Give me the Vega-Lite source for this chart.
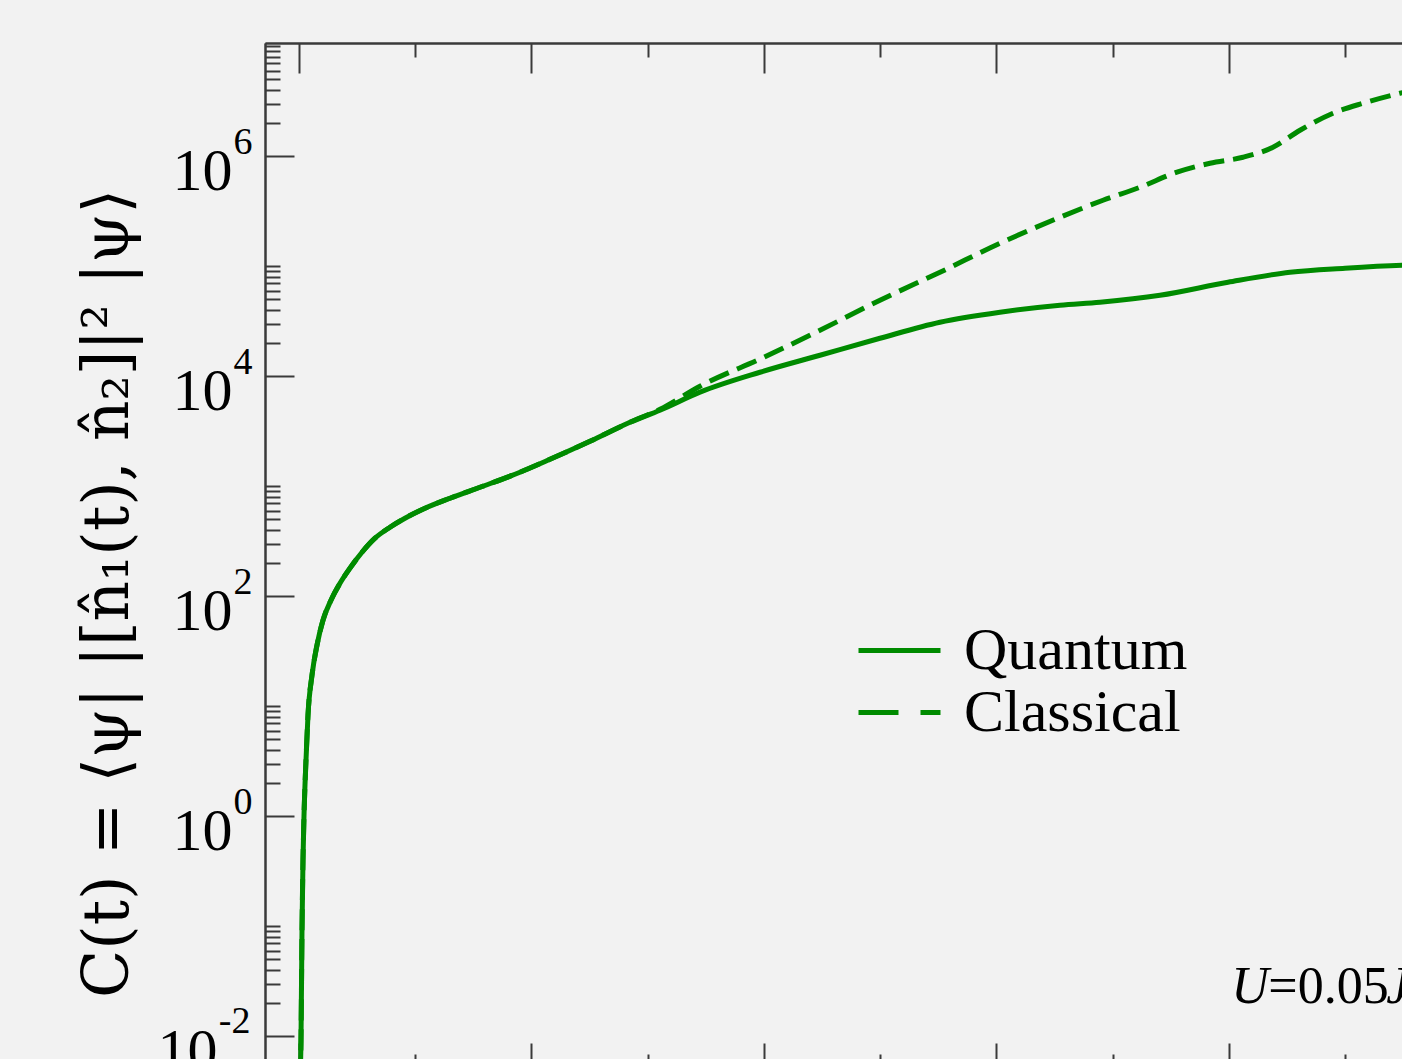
{
  "$schema": "https://vega.github.io/schema/vega-lite/v6.json",
  "autosize": "none",
  "width": 1137,
  "height": 1016,
  "padding": {"left": 265, "top": 43, "right": 0, "bottom": 0},
  "background": "#f2f2f2",
  "config": {
    "view": {"stroke": null},
    "axis": {"domainColor": "#3a3a3a", "domainWidth": 2, "tickColor": "#3a3a3a", "tickWidth": 2, "grid": false, "labelFont": "Liberation Serif", "labelColor": "black"},
    "legend": {"title": null, "padding": 0, "symbolType": "stroke", "symbolSize": 6724, "symbolStrokeWidth": 5, "symbolStrokeColor": "#008b00", "symbolOpacity": 1, "labelFont": "Liberation Serif", "labelFontSize": 60, "labelColor": "black", "labelOffset": 21, "labelLimit": 500}
  },
  "title": {
    "text": "Initial state |ψ⟩ = |0, 20, 0⟩",
    "anchor": "start",
    "dx": 195,
    "offset": 37,
    "font": "Liberation Serif",
    "fontSize": 54,
    "fontWeight": "normal",
    "color": "black",
    "baseline": "alphabetic"
  },
  "data": {
    "values": [
      {"t": 0.043, "C": 0.00398, "series": "Quantum"},
      {"t": 0.086, "C": 0.0092, "series": "Quantum"},
      {"t": 0.129, "C": 0.092, "series": "Quantum"},
      {"t": 0.172, "C": 0.398, "series": "Quantum"},
      {"t": 0.215, "C": 1.0, "series": "Quantum"},
      {"t": 0.301, "C": 3.23, "series": "Quantum"},
      {"t": 0.387, "C": 8.28, "series": "Quantum"},
      {"t": 0.559, "C": 19.1, "series": "Quantum"},
      {"t": 0.774, "C": 35.9, "series": "Quantum"},
      {"t": 1.032, "C": 60.5, "series": "Quantum"},
      {"t": 1.376, "C": 92.0, "series": "Quantum"},
      {"t": 1.763, "C": 131, "series": "Quantum"},
      {"t": 2.194, "C": 180, "series": "Quantum"},
      {"t": 2.71, "C": 251, "series": "Quantum"},
      {"t": 3.269, "C": 337, "series": "Quantum"},
      {"t": 3.914, "C": 424, "series": "Quantum"},
      {"t": 4.559, "C": 512, "series": "Quantum"},
      {"t": 5.419, "C": 631, "series": "Quantum"},
      {"t": 6.495, "C": 778, "series": "Quantum"},
      {"t": 7.785, "C": 979, "series": "Quantum"},
      {"t": 9.29, "C": 1285, "series": "Quantum"},
      {"t": 10.796, "C": 1758, "series": "Quantum"},
      {"t": 12.516, "C": 2564, "series": "Quantum"},
      {"t": 14.237, "C": 3816, "series": "Quantum"},
      {"t": 15.527, "C": 4909, "series": "Quantum"},
      {"t": 17.247, "C": 7161, "series": "Quantum"},
      {"t": 19.828, "C": 10870, "series": "Quantum"},
      {"t": 22.409, "C": 15520, "series": "Quantum"},
      {"t": 24.989, "C": 22150, "series": "Quantum"},
      {"t": 27.57, "C": 30970, "series": "Quantum"},
      {"t": 30.151, "C": 38180, "series": "Quantum"},
      {"t": 32.731, "C": 44190, "series": "Quantum"},
      {"t": 34.452, "C": 47100, "series": "Quantum"},
      {"t": 37.032, "C": 54470, "series": "Quantum"},
      {"t": 39.957, "C": 71570, "series": "Quantum"},
      {"t": 42.624, "C": 88190, "series": "Quantum"},
      {"t": 44.99, "C": 95920, "series": "Quantum"},
      {"t": 47.44, "C": 102100, "series": "Quantum"},
      {"t": 49.9, "C": 104300, "series": "Quantum"},
      {"t": 0.043, "C": 0.00398, "series": "Classical"},
      {"t": 0.086, "C": 0.0092, "series": "Classical"},
      {"t": 0.129, "C": 0.092, "series": "Classical"},
      {"t": 0.172, "C": 0.398, "series": "Classical"},
      {"t": 0.215, "C": 1.0, "series": "Classical"},
      {"t": 0.301, "C": 3.23, "series": "Classical"},
      {"t": 0.387, "C": 8.28, "series": "Classical"},
      {"t": 0.559, "C": 19.1, "series": "Classical"},
      {"t": 0.774, "C": 35.9, "series": "Classical"},
      {"t": 1.032, "C": 60.5, "series": "Classical"},
      {"t": 1.376, "C": 92.0, "series": "Classical"},
      {"t": 1.763, "C": 131, "series": "Classical"},
      {"t": 2.194, "C": 180, "series": "Classical"},
      {"t": 2.71, "C": 251, "series": "Classical"},
      {"t": 3.269, "C": 337, "series": "Classical"},
      {"t": 3.914, "C": 424, "series": "Classical"},
      {"t": 4.559, "C": 512, "series": "Classical"},
      {"t": 5.419, "C": 631, "series": "Classical"},
      {"t": 6.495, "C": 778, "series": "Classical"},
      {"t": 7.785, "C": 979, "series": "Classical"},
      {"t": 9.29, "C": 1285, "series": "Classical"},
      {"t": 10.796, "C": 1758, "series": "Classical"},
      {"t": 12.516, "C": 2564, "series": "Classical"},
      {"t": 14.237, "C": 3816, "series": "Classical"},
      {"t": 15.527, "C": 5012, "series": "Classical"},
      {"t": 17.247, "C": 8110, "series": "Classical"},
      {"t": 20.0, "C": 14890, "series": "Classical"},
      {"t": 22.409, "C": 26180, "series": "Classical"},
      {"t": 24.989, "C": 49090, "series": "Classical"},
      {"t": 27.57, "C": 88190, "series": "Classical"},
      {"t": 30.151, "C": 161800, "series": "Classical"},
      {"t": 32.731, "C": 278700, "series": "Classical"},
      {"t": 34.581, "C": 398100, "series": "Classical"},
      {"t": 36.172, "C": 522700, "series": "Classical"},
      {"t": 37.763, "C": 716200, "series": "Classical"},
      {"t": 39.183, "C": 863600, "series": "Classical"},
      {"t": 40.602, "C": 979000, "series": "Classical"},
      {"t": 41.892, "C": 1207000, "series": "Classical"},
      {"t": 43.054, "C": 1722000, "series": "Classical"},
      {"t": 44.473, "C": 2460000, "series": "Classical"},
      {"t": 45.763, "C": 3034000, "series": "Classical"},
      {"t": 47.355, "C": 3740000, "series": "Classical"},
      {"t": 49.935, "C": 4910000, "series": "Classical"}
    ]
  },
  "layer": [
    {
      "transform": [{"filter": "datum.series === 'Quantum'"}],
      "mark": {"type": "line", "interpolate": "monotone", "strokeWidth": 5, "color": "#008b00", "clip": true, "strokeCap": "butt"},
      "encoding": {
        "x": {
          "field": "t", "type": "quantitative",
          "scale": {"domain": [-1.462, 47.441], "nice": false, "zero": false},
          "axis": {"orient": "bottom", "values": [0, 10, 20, 30, 40], "tickSize": -27, "labels": false, "title": null, "offset": 11}
        },
        "y": {
          "field": "C", "type": "quantitative",
          "scale": {"type": "log", "domain": [0.00621, 10700000], "nice": false},
          "axis": {
            "orient": "left",
            "values": [0.01, 1, 100, 10000, 1000000],
            "tickSize": -29,
            "labels": false,
            "title": "C(t) = ⟨ψ| |[n̂₁(t), n̂₂]|² |ψ⟩",
            "titleFont": "DejaVu Serif",
            "titleFontSize": 63,
            "titleFontWeight": "normal",
            "titleColor": "black",
            "titleAngle": -90,
            "titleAlign": "center",
            "titleBaseline": "alphabetic",
            "titleX": -138,
            "titleY": 550
          }
        }
      }
    },
    {
      "transform": [{"filter": "datum.series === 'Classical'"}],
      "mark": {"type": "line", "interpolate": "monotone", "strokeWidth": 5, "color": "#008b00", "clip": true, "strokeCap": "butt", "strokeDash": [21, 9]},
      "encoding": {
        "x": {
          "field": "t", "type": "quantitative",
          "scale": {"domain": [-1.462, 47.441], "nice": false, "zero": false},
          "axis": {"orient": "bottom", "values": [5, 15, 25, 35, 45], "tickSize": -16, "labels": false, "title": null, "offset": 11}
        },
        "y": {
          "field": "C", "type": "quantitative",
          "scale": {"type": "log", "domain": [0.00621, 10700000], "nice": false},
          "axis": {
            "orient": "left",
            "values": [0.02, 0.03, 0.04, 0.05, 0.06, 0.07, 0.08, 0.09, 0.1, 2, 3, 4, 5, 6, 7, 8, 9, 10, 200, 300, 400, 500, 600, 700, 800, 900, 1000, 20000, 30000, 40000, 50000, 60000, 70000, 80000, 90000, 100000, 2000000, 3000000, 4000000, 5000000, 6000000, 7000000, 8000000, 9000000, 10000000],
            "tickSize": -15, "labels": false, "title": null
          }
        }
      }
    },
    {
      "mark": {"type": "point", "opacity": 0},
      "encoding": {
        "x": {
          "field": "t", "type": "quantitative",
          "scale": {"domain": [-1.462, 47.441], "nice": false, "zero": false},
          "axis": {"orient": "top", "values": [0, 10, 20, 30, 40], "tickSize": -30, "labels": false, "title": null}
        },
        "y": {
          "field": "C", "type": "quantitative",
          "scale": {"type": "log", "domain": [0.00621, 10700000], "nice": false},
          "axis": {
            "orient": "left", "values": [1, 100, 10000, 1000000], "ticks": false, "domain": false, "title": null,
            "labelExpr": "'10'", "labelFontSize": 60, "labelAlign": "right", "labelBaseline": "alphabetic", "labelPadding": 33, "labelOffset": 33
          }
        }
      }
    },
    {
      "mark": {"type": "point", "opacity": 0},
      "encoding": {
        "x": {
          "field": "t", "type": "quantitative",
          "scale": {"domain": [-1.462, 47.441], "nice": false, "zero": false},
          "axis": {"orient": "top", "values": [5, 15, 25, 35, 45], "tickSize": -14, "labels": false, "title": null}
        },
        "y": {
          "field": "C", "type": "quantitative",
          "scale": {"type": "log", "domain": [0.00621, 10700000], "nice": false},
          "axis": {
            "orient": "left", "values": [1, 100, 10000, 1000000], "ticks": false, "domain": false, "title": null,
            "labelExpr": "datum.value < 10 ? '0' : datum.value < 1000 ? '2' : datum.value < 100000 ? '4' : '6'",
            "labelFontSize": 38, "labelAlign": "right", "labelBaseline": "alphabetic", "labelPadding": 13, "labelOffset": -3
          }
        }
      }
    },
    {
      "data": {"values": [{"label": "U"}]},
      "mark": {"type": "text", "font": "Liberation Serif", "fontStyle": "italic", "fontSize": 52, "align": "left", "baseline": "alphabetic", "color": "black"},
      "encoding": {
        "x": {"datum": 40.1, "type": "quantitative", "scale": {"domain": [-1.462, 47.441], "nice": false, "zero": false}, "axis": null},
        "y": {
          "datum": 0.02, "type": "quantitative", "scale": {"type": "log", "domain": [0.00621, 10700000], "nice": false},
          "axis": {
            "orient": "left", "values": [0.01], "ticks": false, "domain": false, "title": null,
            "labelExpr": "'10'", "labelFontSize": 60, "labelAlign": "right", "labelBaseline": "alphabetic", "labelPadding": 48, "labelOffset": 33
          }
        },
        "text": {"field": "label"}
      }
    },
    {
      "data": {"values": [{"label": "=0.05"}]},
      "mark": {"type": "text", "font": "Liberation Serif", "fontSize": 52, "align": "left", "baseline": "alphabetic", "color": "black", "dx": 37},
      "encoding": {
        "x": {"datum": 40.1, "type": "quantitative", "scale": {"domain": [-1.462, 47.441], "nice": false, "zero": false}, "axis": null},
        "y": {
          "datum": 0.02, "type": "quantitative", "scale": {"type": "log", "domain": [0.00621, 10700000], "nice": false},
          "axis": {
            "orient": "left", "values": [0.01], "ticks": false, "domain": false, "title": null,
            "labelExpr": "'-2'", "labelFontSize": 38, "labelAlign": "right", "labelBaseline": "alphabetic", "labelPadding": 15, "labelOffset": -4
          }
        },
        "text": {"field": "label"}
      }
    },
    {
      "data": {"values": [{"label": "J"}]},
      "mark": {"type": "text", "font": "Liberation Serif", "fontStyle": "italic", "fontSize": 52, "align": "left", "baseline": "alphabetic", "color": "black", "dx": 155},
      "encoding": {
        "x": {"datum": 40.1, "type": "quantitative", "scale": {"domain": [-1.462, 47.441], "nice": false, "zero": false}, "axis": null},
        "y": {"datum": 0.02, "type": "quantitative", "scale": {"type": "log", "domain": [0.00621, 10700000], "nice": false}, "axis": null},
        "text": {"field": "label"}
      }
    },
    {
      "data": {"values": [{"series": "Quantum"}]},
      "mark": {"type": "line", "color": "#008b00", "strokeWidth": 0},
      "encoding": {
        "strokeDash": {
          "field": "series", "type": "nominal",
          "scale": {"domain": ["Quantum"], "range": [[1, 0]]},
          "legend": {"orient": "none", "legendX": 591, "legendY": 564}
        }
      }
    },
    {
      "data": {"values": [{"kind": "Classical"}]},
      "mark": {"type": "line", "color": "#008b00", "strokeWidth": 0},
      "encoding": {
        "strokeDash": {
          "field": "kind", "type": "nominal",
          "scale": {"domain": ["Classical"], "range": [[40, 22]]},
          "legend": {"orient": "none", "legendX": 591, "legendY": 626}
        }
      }
    }
  ],
  "resolve": {"axis": {"x": "independent", "y": "independent"}, "scale": {"strokeDash": "independent"}, "legend": {"strokeDash": "independent"}}
}
